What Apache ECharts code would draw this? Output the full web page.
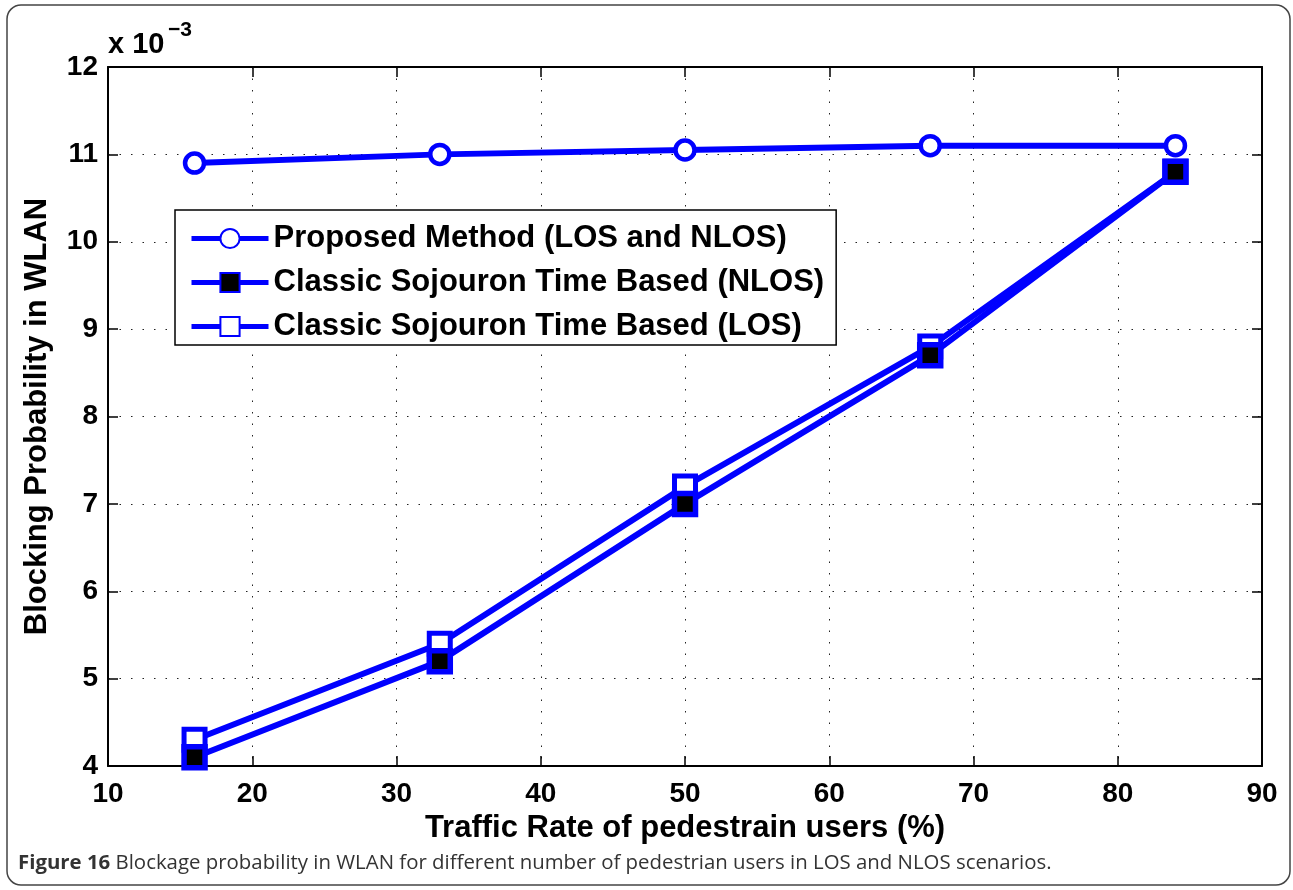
<!DOCTYPE html>
<html>
<head>
<meta charset="utf-8">
<script src="https://cdn.jsdelivr.net/npm/echarts@6/dist/echarts.min.js"></script>
<style>
html,body{margin:0;padding:0;background:#fff;}
#chart{width:1293px;height:890px;}
</style>
</head>
<body>
<div id="chart"></div>
<script>
// x positions (Traffic Rate of pedestrain users, %)
const trafficRate = [16, 33, 50, 67, 84];
// Blocking probability values in units of 1e-3
const proposed = [10.9, 11.0, 11.05, 11.1, 11.1];
const classicNLOS = [4.1, 5.2, 7.0, 8.7, 10.8];
const classicLOS = [4.3, 5.4, 7.2, 8.8, 10.8];
const seriesNames = ['Proposed Method (LOS and NLOS)', 'Classic Sojouron Time Based (NLOS)', 'Classic Sojouron Time Based (LOS)'];
const xTitle = 'Traffic Rate of pedestrain users (%)';
const yTitle = 'Blocking Probability in WLAN';
const captionBold = 'Figure 16';
const captionText = 'Blockage probability in WLAN for different number of pedestrian users in LOS and NLOS scenarios.';

const pairs = arr => trafficRate.map((x, i) => [x, arr[i]]);
const FONT = '"Liberation Sans", Arial, Helvetica, sans-serif';
const BLUE = '#0000ff';

const chart = echarts.init(document.getElementById('chart'), null, {renderer: 'canvas'});

const axisCommon = {
  axisLine: {show: true, lineStyle: {color: '#000', width: 2}},
  axisTick: {show: true, inside: true, length: 10, lineStyle: {color: '#000', width: 1.5}},
};

chart.setOption({
  animation: false,
  backgroundColor: '#fff',
  grid: {left: 108, top: 67, width: 1154, height: 699},
  legend: {
    orient: 'vertical',
    left: 175, top: 210,
    padding: [13, 12, 3, 14],
    itemGap: 13,
    itemWidth: 77,
    itemHeight: 24,
    backgroundColor: '#fff',
    borderColor: '#000',
    borderWidth: 1.5,
    lineStyle: {width: 5},
    textStyle: {fontFamily: FONT, fontWeight: 'bold', fontSize: 31, color: '#000'},
    data: seriesNames
  },
  xAxis: [{
    type: 'value', min: 10, max: 90, interval: 10,
    position: 'bottom',
    ...axisCommon,
    axisLabel: {fontFamily: FONT, fontWeight: 'bold', fontSize: 28, color: '#000', margin: 14},
    splitLine: {show: true, lineStyle: {color: '#222', width: 1, type: [1.5, 10]}},
    name: xTitle, nameLocation: 'middle', nameGap: 47,
    nameTextStyle: {fontFamily: FONT, fontWeight: 'bold', fontSize: 31, color: '#000'}
  }, {
    type: 'value', min: 10, max: 90, interval: 10,
    position: 'top',
    ...axisCommon,
    axisLabel: {show: false},
    splitLine: {show: false}
  }],
  yAxis: [{
    type: 'value', min: 4, max: 12, interval: 1,
    position: 'left',
    ...axisCommon,
    axisLabel: {fontFamily: FONT, fontWeight: 'bold', fontSize: 28, color: '#000', margin: 10},
    splitLine: {show: true, lineStyle: {color: '#222', width: 1, type: [1.5, 10]}},
    name: yTitle, nameLocation: 'middle', nameGap: 55, nameRotate: 90,
    nameTextStyle: {fontFamily: FONT, fontWeight: 'bold', fontSize: 31, color: '#000'}
  }, {
    type: 'value', min: 4, max: 12, interval: 1,
    position: 'right',
    ...axisCommon,
    axisLabel: {show: false},
    splitLine: {show: false}
  }],
  series: [{
    name: seriesNames[0], type: 'line', data: pairs(proposed),
    symbol: 'circle', symbolSize: 19,
    lineStyle: {color: BLUE, width: 6},
    itemStyle: {color: '#fff', borderColor: BLUE, borderWidth: 4.5},
    z: 3
  }, {
    name: seriesNames[1], type: 'line', data: pairs(classicNLOS),
    symbol: 'rect', symbolSize: 21,
    lineStyle: {color: BLUE, width: 6},
    itemStyle: {color: '#000', borderColor: BLUE, borderWidth: 5.5},
    z: 3
  }, {
    name: seriesNames[2], type: 'line', data: pairs(classicLOS),
    symbol: 'rect', symbolSize: 21,
    lineStyle: {color: BLUE, width: 6},
    itemStyle: {color: '#fff', borderColor: BLUE, borderWidth: 5},
    z: 2
  }],
  graphic: [{
    type: 'rect', silent: true, z: -10,
    shape: {x: 7, y: 5, width: 1283, height: 880, r: 14},
    style: {fill: 'none', stroke: '#444', lineWidth: 1.5}
  }, {
    type: 'text', left: 108, top: 30,
    style: {text: 'x 10', font: 'bold 29px ' + FONT, fill: '#000'}
  }, {
    type: 'text', left: 168, top: 20,
    style: {text: '\u22123', font: 'bold 21px ' + FONT, fill: '#000'}
  }, {
    type: 'text', left: 18, top: 853,
    style: {
      text: '{b|' + captionBold + '} ' + captionText,
      font: '20.4px "Open Sans", sans-serif', fill: '#333',
      rich: {b: {fontWeight: 'bold', fontFamily: '"Open Sans", sans-serif', fontSize: 20.4, fill: '#333'}}
    }
  }]
});
</script>
</body>
</html>
